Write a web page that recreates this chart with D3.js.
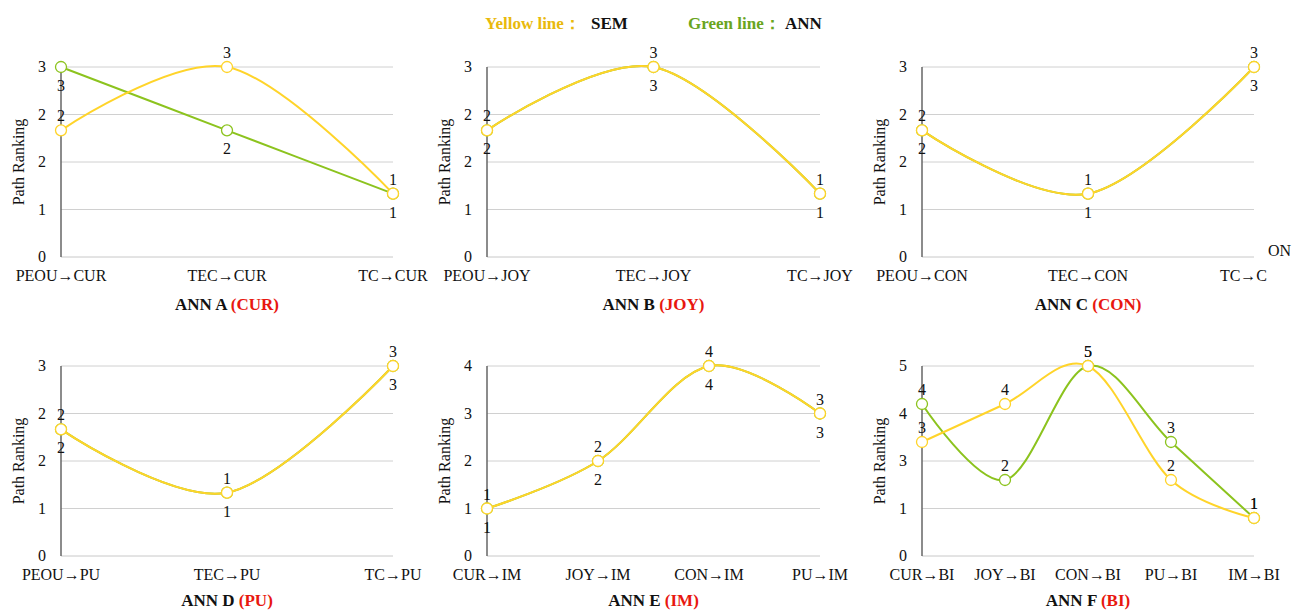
<!DOCTYPE html>
<html>
<head>
<meta charset="utf-8">
<script src="https://cdn.jsdelivr.net/npm/d3@7"></script>
<style>
  body { margin: 0; background: #fff; }
</style>
</head>
<body>
<div id="chart"></div>
<script>
// Path rankings, SEM (yellow) vs ANN (green)
const catsA = ["PEOU→CUR", "TEC→CUR", "TC→CUR"];
const semA = [2, 3, 1];
const annA = [3, 2, 1];

const catsB = ["PEOU→JOY", "TEC→JOY", "TC→JOY"];
const semB = [2, 3, 1];
const annB = [2, 3, 1];

const catsC = ["PEOU→CON", "TEC→CON", "TC→CON"];
const semC = [2, 1, 3];
const annC = [2, 1, 3];

const catsD = ["PEOU→PU", "TEC→PU", "TC→PU"];
const semD = [2, 1, 3];
const annD = [2, 1, 3];

const catsE = ["CUR→IM", "JOY→IM", "CON→IM", "PU→IM"];
const semE = [1, 2, 4, 3];
const annE = [1, 2, 4, 3];

const catsF = ["CUR→BI", "JOY→BI", "CON→BI", "PU→BI", "IM→BI"];
const semF = [3, 4, 5, 2, 1];
const annF = [4, 2, 5, 3, 1];

const titles = ["A", "B", "C", "D", "E", "F"];
const targets = ["CUR", "JOY", "CON", "PU", "IM", "BI"];

const panels = [
    { cats: catsA, sem: semA, ann: annA, max: 3 },
    { cats: catsB, sem: semB, ann: annB, max: 3 },
    { cats: catsC, sem: semC, ann: annC, max: 3 },
    { cats: catsD, sem: semD, ann: annD, max: 3 },
    { cats: catsE, sem: semE, ann: annE, max: 4 },
    { cats: catsF, sem: semF, ann: annF, max: 5 }
];

const W = 1293, H = 611;
const YELLOW = "#ffd42a", GREEN = "#8cc31e";
const FONT = "'Liberation Serif', 'Times New Roman', 'DejaVu Serif', serif";

// plot boxes
const cols = [[61, 393], [487, 820], [922, 1254]];
const rows = [[67, 257], [366, 556]];

const svg = d3.select("#chart").append("svg")
    .attr("width", W).attr("height", H)
    .style("font-family", FONT);

// Legend
const legend = svg.append("text")
    .attr("y", 29)
    .attr("font-size", "17px")
    .attr("font-weight", "bold");
legend.append("tspan").attr("x", 485).attr("fill", "#e9b90c").text("Yellow line：");
legend.append("tspan").attr("x", 591).attr("fill", "#111").text("SEM");
legend.append("tspan").attr("x", 688).attr("fill", "#6aa51e").text("Green line：");
legend.append("tspan").attr("x", 785).attr("fill", "#111").text("ANN");

panels.forEach((p, i) => {
    const [x0, x1] = cols[i % 3];
    const [y0, y1] = rows[Math.floor(i / 3)];
    const g = svg.append("g");

    const x = d3.scalePoint().domain(p.cats).range([x0, x1]).padding(0);
    const y = d3.scaleLinear().domain([0, p.max]).range([y1, y0]);
    const ticks = d3.range(5).map(k => k * p.max / 4);

    // gridlines
    g.selectAll(".grid")
        .data(ticks.slice(1))
        .enter().append("line")
        .attr("x1", x0).attr("x2", x1)
        .attr("y1", d => y(d)).attr("y2", d => y(d))
        .attr("stroke", "#d0d0d0").attr("stroke-width", 1);

    // bottom axis line
    g.append("line")
        .attr("x1", x0).attr("x2", x1)
        .attr("y1", y1).attr("y2", y1)
        .attr("stroke", "#c8c8c8").attr("stroke-width", 1);

    // left axis
    g.append("line")
        .attr("x1", x0).attr("x2", x0)
        .attr("y1", y0).attr("y2", y1)
        .attr("stroke", "#666").attr("stroke-width", 1.5);

    g.selectAll(".ytick")
        .data(ticks)
        .enter().append("text")
        .attr("x", x0 - 15)
        .attr("y", d => y(d) + 5)
        .attr("text-anchor", "end")
        .attr("font-size", "16px")
        .attr("fill", "#111")
        .text(d => d.toFixed(0));

    g.append("text")
        .attr("transform", `translate(${x0 - 37},${(y0 + y1) / 2}) rotate(-90)`)
        .attr("text-anchor", "middle")
        .attr("font-size", "16px")
        .attr("fill", "#111")
        .text("Path Ranking");

    // category labels
    p.cats.forEach((c, k) => {
        const t = g.append("text")
            .attr("y", y1 + 24)
            .attr("font-size", "16px")
            .attr("fill", "#111");
        if (i === 2 && k === p.cats.length - 1) {
            // label wraps at the page edge, like in the source
            t.attr("x", x(c) + 13).attr("text-anchor", "end").text(c.slice(0, -2));
            g.append("text")
                .attr("x", x(c) + 14).attr("y", y1 - 1)
                .attr("font-size", "16px").attr("fill", "#111")
                .text(c.slice(-2));
        } else {
            t.attr("x", x(c)).attr("text-anchor", "middle").text(c);
        }
    });

    // title
    const title = g.append("text")
        .attr("x", (x0 + x1) / 2)
        .attr("y", y1 + (i < 3 ? 53 : 50))
        .attr("text-anchor", "middle")
        .attr("font-size", "17px")
        .attr("font-weight", "bold");
    title.append("tspan").attr("fill", "#111").text(`ANN ${titles[i]} `);
    title.append("tspan").attr("fill", "#e8170f").text(`(${targets[i]})`);

    const line = d3.line()
        .x((d, k) => x(p.cats[k]))
        .y(d => y(d))
        .curve(d3.curveCardinal.tension(0));

    const series = [
        { vals: p.ann, color: GREEN, below: i !== 5 },
        { vals: p.sem, color: YELLOW, below: false }
    ];

    series.forEach(s => {
        g.append("path")
            .datum(s.vals)
            .attr("d", line)
            .attr("fill", "none")
            .attr("stroke", s.color)
            .attr("stroke-width", 2);

        g.selectAll(null)
            .data(s.vals)
            .enter().append("circle")
            .attr("cx", (d, k) => x(p.cats[k]))
            .attr("cy", d => y(d))
            .attr("r", 5.5)
            .attr("fill", "#fff")
            .attr("stroke", s.color)
            .attr("stroke-width", 1.3);
    });

    series.forEach(s => {
        g.selectAll(null)
            .data(s.vals)
            .enter().append("text")
            .attr("x", (d, k) => x(p.cats[k]))
            .attr("y", d => y(d) + (s.below ? 24 : -9))
            .attr("text-anchor", "middle")
            .attr("font-size", "16px")
            .attr("fill", "#111")
            .text(d => d);
    });
});
</script>
</body>
</html>
